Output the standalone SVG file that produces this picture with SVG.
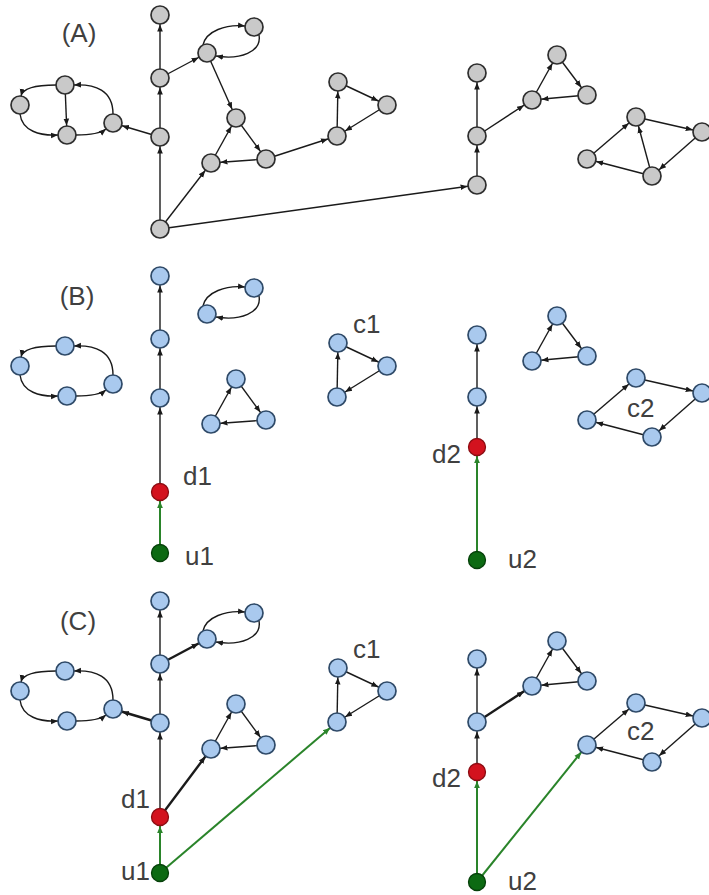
<svg xmlns="http://www.w3.org/2000/svg" width="709" height="895" viewBox="0 0 709 895">
  <defs>
    <style>
      .g circle { fill: #c9c9c9; stroke: #2e2e2e; stroke-width: 1.7; }
      .b circle { fill: #a9c9ee; stroke: #2f4a68; stroke-width: 1.7; }
      .r circle { fill: #d3121e; stroke: #8c0c12; stroke-width: 1.3; }
      .u circle { fill: #0c6a12; stroke: #06400a; stroke-width: 1.3; }
      .e { stroke: #1a1a1a; stroke-width: 1.4; fill: none; marker-end: url(#ar); }
      .c { stroke: #1a1a1a; stroke-width: 1.4; fill: none; marker-end: url(#at); }
      .t { stroke: #1a1a1a; stroke-width: 2.4; fill: none; marker-end: url(#ar); }
      .q { stroke: #2a842a; stroke-width: 2; fill: none; marker-end: url(#ag); }
      text { font-family: "Liberation Sans", Arial, sans-serif; font-size: 26px; fill: #404040; }
    </style>
    <!-- arrowhead set back by the node radius, for centre-to-centre lines -->
    <marker id="ar" viewBox="0 -4 20 8" refX="16.5" refY="0" markerWidth="20" markerHeight="8" markerUnits="userSpaceOnUse" orient="auto">
      <path d="M0,-2.8L7,0L0,2.8z" fill="#1a1a1a"/>
    </marker>
    <!-- arrowhead with its tip at the path end, for curves -->
    <marker id="at" viewBox="0 -4 8 8" refX="7" refY="0" markerWidth="8" markerHeight="8" markerUnits="userSpaceOnUse" orient="auto">
      <path d="M0,-2.8L7,0L0,2.8z" fill="#1a1a1a"/>
    </marker>
    <marker id="ag" viewBox="0 -4 20 8" refX="16.3" refY="0" markerWidth="20" markerHeight="8" markerUnits="userSpaceOnUse" orient="auto">
      <path d="M0,-3L7,0L0,3z" fill="#2a842a"/>
    </marker>
  </defs>

  <!-- ===================== Panel A ===================== -->
  <g id="panelA">
    <text x="79" y="42" text-anchor="middle">(A)</text>
    <g id="edgesA">
      <line class="e" x1="160" y1="229" x2="160" y2="137"/>
      <line class="e" x1="160" y1="137" x2="160" y2="78"/>
      <line class="e" x1="160" y1="78" x2="160" y2="15"/>
      <line class="e" x1="160" y1="78" x2="207" y2="53"/>
      <line class="e" x1="207" y1="53" x2="236" y2="118"/>
      <line class="e" x1="236" y1="118" x2="266" y2="159"/>
      <line class="e" x1="266" y1="159" x2="211" y2="163"/>
      <line class="e" x1="211" y1="163" x2="236" y2="118"/>
      <line class="e" x1="160" y1="229" x2="211" y2="163"/>
      <line class="e" x1="160" y1="229" x2="477" y2="185"/>
      <line class="e" x1="266" y1="159" x2="337" y2="136"/>
      <line class="e" x1="337" y1="136" x2="338" y2="82"/>
      <line class="e" x1="338" y1="82" x2="387" y2="105"/>
      <line class="e" x1="387" y1="105" x2="337" y2="136"/>
      <line class="e" x1="160" y1="137" x2="113" y2="123"/>
      <line class="e" x1="65" y1="85" x2="67" y2="135"/>
      <path class="c" d="M203,45 C206,31 226,24 245,26"/>
      <path class="c" d="M259,35 C262,52 240,60 216,56"/>
      <path class="c" d="M113,114 C113,90 95,84 74,85"/>
      <path class="c" d="M56,85 C40,85 23,87 21,96"/>
      <path class="c" d="M20,114 C22,131 40,136 58,135"/>
      <path class="c" d="M76,135 C92,135 101,133 106,129"/>
      <line class="e" x1="477" y1="185" x2="477" y2="136"/>
      <line class="e" x1="477" y1="136" x2="477" y2="73"/>
      <line class="e" x1="477" y1="136" x2="532" y2="100"/>
      <line class="e" x1="532" y1="100" x2="557" y2="55"/>
      <line class="e" x1="557" y1="55" x2="587" y2="95"/>
      <line class="e" x1="587" y1="95" x2="532" y2="100"/>
      <line class="e" x1="587" y1="159" x2="636" y2="117"/>
      <line class="e" x1="636" y1="117" x2="702" y2="132"/>
      <line class="e" x1="702" y1="132" x2="652" y2="176"/>
      <line class="e" x1="652" y1="176" x2="587" y2="159"/>
      <line class="e" x1="652" y1="176" x2="636" y2="117"/>
    </g>
    <g class="g">
      <g id="a-t0"><circle cx="160" cy="15" r="9"/></g>
      <g id="a-t1"><circle cx="160" cy="78" r="9"/></g>
      <g id="a-t2"><circle cx="160" cy="137" r="9"/></g>
      <g id="a-root"><circle cx="160" cy="229" r="9"/></g>
      <g id="a-p"><circle cx="207" cy="53" r="9"/></g>
      <g id="a-q"><circle cx="254" cy="27" r="9"/></g>
      <g id="a-lt"><circle cx="65" cy="85" r="9"/></g>
      <g id="a-ll"><circle cx="20" cy="105" r="9"/></g>
      <g id="a-lb"><circle cx="67" cy="135" r="9"/></g>
      <g id="a-lr"><circle cx="113" cy="123" r="9"/></g>
      <g id="a-k0"><circle cx="236" cy="118" r="9"/></g>
      <g id="a-k1"><circle cx="211" cy="163" r="9"/></g>
      <g id="a-k2"><circle cx="266" cy="159" r="9"/></g>
      <g id="a-c0"><circle cx="338" cy="82" r="9"/></g>
      <g id="a-c1"><circle cx="387" cy="105" r="9"/></g>
      <g id="a-c2"><circle cx="337" cy="136" r="9"/></g>
      <g id="a-r0"><circle cx="477" cy="73" r="9"/></g>
      <g id="a-r1"><circle cx="477" cy="136" r="9"/></g>
      <g id="a-r2"><circle cx="477" cy="185" r="9"/></g>
      <g id="a-m0"><circle cx="557" cy="55" r="9"/></g>
      <g id="a-m1"><circle cx="532" cy="100" r="9"/></g>
      <g id="a-m2"><circle cx="587" cy="95" r="9"/></g>
      <g id="a-s0"><circle cx="636" cy="117" r="9"/></g>
      <g id="a-s1"><circle cx="587" cy="159" r="9"/></g>
      <g id="a-s2"><circle cx="652" cy="176" r="9"/></g>
      <g id="a-s3"><circle cx="702" cy="132" r="9"/></g>
    </g>
  </g>

  <!-- ===================== Panel B ===================== -->
  <g id="panelB" transform="translate(0,261)">
    <text x="77" y="44" text-anchor="middle">(B)</text>
    <text x="183" y="224">d1</text>
    <text x="185" y="304">u1</text>
    <text x="353" y="72">c1</text>
    <text x="461" y="202" text-anchor="end">d2</text>
    <text x="508" y="307">u2</text>
    <text x="627" y="156">c2</text>
    <g id="edgesB">
      <line class="e" x1="160" y1="231" x2="160" y2="137"/>
      <line class="e" x1="160" y1="137" x2="160" y2="78"/>
      <line class="e" x1="160" y1="78" x2="160" y2="15"/>
      <line class="q" x1="160" y1="292" x2="160" y2="231"/>
      <path class="c" d="M203,45 C206,31 226,24 245,26"/>
      <path class="c" d="M259,35 C262,52 240,60 216,56"/>
      <path class="c" d="M113,114 C113,90 95,84 74,85"/>
      <path class="c" d="M56,85 C40,85 23,87 21,96"/>
      <path class="c" d="M20,114 C22,131 40,136 58,135"/>
      <path class="c" d="M76,135 C92,135 101,133 106,129"/>
      <line class="e" x1="236" y1="118" x2="266" y2="159"/>
      <line class="e" x1="266" y1="159" x2="211" y2="163"/>
      <line class="e" x1="211" y1="163" x2="236" y2="118"/>
      <line class="e" x1="337" y1="136" x2="338" y2="82"/>
      <line class="e" x1="338" y1="82" x2="387" y2="105"/>
      <line class="e" x1="387" y1="105" x2="337" y2="136"/>
      <line class="e" x1="477" y1="186" x2="477" y2="136"/>
      <line class="e" x1="477" y1="136" x2="477" y2="74"/>
      <line class="q" x1="477" y1="299" x2="477" y2="186"/>
      <line class="e" x1="532" y1="100" x2="557" y2="55"/>
      <line class="e" x1="557" y1="55" x2="587" y2="95"/>
      <line class="e" x1="587" y1="95" x2="532" y2="100"/>
      <line class="e" x1="587" y1="159" x2="636" y2="117"/>
      <line class="e" x1="636" y1="117" x2="702" y2="132"/>
      <line class="e" x1="702" y1="132" x2="652" y2="176"/>
      <line class="e" x1="652" y1="176" x2="587" y2="159"/>
    </g>
    <g class="b">
      <g id="b-t0"><circle cx="160" cy="15" r="9"/></g>
      <g id="b-t1"><circle cx="160" cy="78" r="9"/></g>
      <g id="b-t2"><circle cx="160" cy="137" r="9"/></g>
      <g id="b-p"><circle cx="207" cy="53" r="9"/></g>
      <g id="b-q"><circle cx="254" cy="27" r="9"/></g>
      <g id="b-lt"><circle cx="65" cy="85" r="9"/></g>
      <g id="b-ll"><circle cx="20" cy="105" r="9"/></g>
      <g id="b-lb"><circle cx="67" cy="135" r="9"/></g>
      <g id="b-lr"><circle cx="113" cy="123" r="9"/></g>
      <g id="b-k0"><circle cx="236" cy="118" r="9"/></g>
      <g id="b-k1"><circle cx="211" cy="163" r="9"/></g>
      <g id="b-k2"><circle cx="266" cy="159" r="9"/></g>
      <g id="b-c0"><circle cx="338" cy="82" r="9"/></g>
      <g id="b-c1"><circle cx="387" cy="105" r="9"/></g>
      <g id="b-c2"><circle cx="337" cy="136" r="9"/></g>
      <g id="b-r0"><circle cx="477" cy="74" r="9"/></g>
      <g id="b-r1"><circle cx="477" cy="136" r="9"/></g>
      <g id="b-m0"><circle cx="557" cy="55" r="9"/></g>
      <g id="b-m1"><circle cx="532" cy="100" r="9"/></g>
      <g id="b-m2"><circle cx="587" cy="95" r="9"/></g>
      <g id="b-s0"><circle cx="636" cy="117" r="9"/></g>
      <g id="b-s1"><circle cx="587" cy="159" r="9"/></g>
      <g id="b-s2"><circle cx="652" cy="176" r="9"/></g>
      <g id="b-s3"><circle cx="702" cy="132" r="9"/></g>
    </g>
    <g id="b-d1" class="r"><circle cx="160" cy="231" r="8.5"/></g>
    <g id="b-u1" class="u"><circle cx="160" cy="292" r="8.5"/></g>
    <g id="b-d2" class="r"><circle cx="477" cy="186" r="8.5"/></g>
    <g id="b-u2" class="u"><circle cx="477" cy="299" r="8.5"/></g>
  </g>

  <!-- ===================== Panel C ===================== -->
  <g id="panelC" transform="translate(0,586)">
    <text x="78" y="44" text-anchor="middle">(C)</text>
    <text x="150" y="222" text-anchor="end">d1</text>
    <text x="150" y="294" text-anchor="end">u1</text>
    <text x="353" y="72">c1</text>
    <text x="461" y="201" text-anchor="end">d2</text>
    <text x="508" y="304">u2</text>
    <text x="627" y="154">c2</text>
    <g id="edgesC">
      <line class="e" x1="160" y1="231" x2="160" y2="137"/>
      <line class="e" x1="160" y1="137" x2="160" y2="78"/>
      <line class="e" x1="160" y1="78" x2="160" y2="15"/>
      <line class="q" x1="160" y1="287" x2="160" y2="231"/>
      <line class="q" x1="160" y1="287" x2="337" y2="136"/>
      <line class="t" x1="160" y1="231" x2="211" y2="163"/>
      <line class="t" x1="160" y1="137" x2="113" y2="123"/>
      <line class="t" x1="160" y1="78" x2="207" y2="53"/>
      <path class="c" d="M203,45 C206,31 226,24 245,26"/>
      <path class="c" d="M259,35 C262,52 240,60 216,56"/>
      <path class="c" d="M113,114 C113,90 95,84 74,85"/>
      <path class="c" d="M56,85 C40,85 23,87 21,96"/>
      <path class="c" d="M20,114 C22,131 40,136 58,135"/>
      <path class="c" d="M76,135 C92,135 101,133 106,129"/>
      <line class="e" x1="236" y1="118" x2="266" y2="159"/>
      <line class="e" x1="266" y1="159" x2="211" y2="163"/>
      <line class="e" x1="211" y1="163" x2="236" y2="118"/>
      <line class="e" x1="337" y1="136" x2="338" y2="82"/>
      <line class="e" x1="338" y1="82" x2="387" y2="105"/>
      <line class="e" x1="387" y1="105" x2="337" y2="136"/>
      <line class="e" x1="477" y1="186" x2="477" y2="136"/>
      <line class="e" x1="477" y1="136" x2="477" y2="73"/>
      <line class="t" x1="477" y1="136" x2="532" y2="100"/>
      <line class="q" x1="477" y1="296" x2="477" y2="186"/>
      <line class="q" x1="477" y1="296" x2="587" y2="159"/>
      <line class="e" x1="532" y1="100" x2="557" y2="55"/>
      <line class="e" x1="557" y1="55" x2="587" y2="95"/>
      <line class="e" x1="587" y1="95" x2="532" y2="100"/>
      <line class="e" x1="587" y1="159" x2="636" y2="117"/>
      <line class="e" x1="636" y1="117" x2="702" y2="132"/>
      <line class="e" x1="702" y1="132" x2="652" y2="176"/>
      <line class="e" x1="652" y1="176" x2="587" y2="159"/>
    </g>
    <g class="b">
      <g id="c-t0"><circle cx="160" cy="15" r="9"/></g>
      <g id="c-t1"><circle cx="160" cy="78" r="9"/></g>
      <g id="c-t2"><circle cx="160" cy="137" r="9"/></g>
      <g id="c-p"><circle cx="207" cy="53" r="9"/></g>
      <g id="c-q"><circle cx="254" cy="27" r="9"/></g>
      <g id="c-lt"><circle cx="65" cy="85" r="9"/></g>
      <g id="c-ll"><circle cx="20" cy="105" r="9"/></g>
      <g id="c-lb"><circle cx="67" cy="135" r="9"/></g>
      <g id="c-lr"><circle cx="113" cy="123" r="9"/></g>
      <g id="c-k0"><circle cx="236" cy="118" r="9"/></g>
      <g id="c-k1"><circle cx="211" cy="163" r="9"/></g>
      <g id="c-k2"><circle cx="266" cy="159" r="9"/></g>
      <g id="c-c0"><circle cx="338" cy="82" r="9"/></g>
      <g id="c-c1"><circle cx="387" cy="105" r="9"/></g>
      <g id="c-c2"><circle cx="337" cy="136" r="9"/></g>
      <g id="c-r0"><circle cx="477" cy="73" r="9"/></g>
      <g id="c-r1"><circle cx="477" cy="136" r="9"/></g>
      <g id="c-m0"><circle cx="557" cy="55" r="9"/></g>
      <g id="c-m1"><circle cx="532" cy="100" r="9"/></g>
      <g id="c-m2"><circle cx="587" cy="95" r="9"/></g>
      <g id="c-s0"><circle cx="636" cy="117" r="9"/></g>
      <g id="c-s1"><circle cx="587" cy="159" r="9"/></g>
      <g id="c-s2"><circle cx="652" cy="176" r="9"/></g>
      <g id="c-s3"><circle cx="702" cy="132" r="9"/></g>
    </g>
    <g id="c-d1" class="r"><circle cx="160" cy="231" r="8.5"/></g>
    <g id="c-u1" class="u"><circle cx="160" cy="287" r="8.5"/></g>
    <g id="c-d2" class="r"><circle cx="477" cy="186" r="8.5"/></g>
    <g id="c-u2" class="u"><circle cx="477" cy="296" r="8.5"/></g>
  </g>
</svg>
